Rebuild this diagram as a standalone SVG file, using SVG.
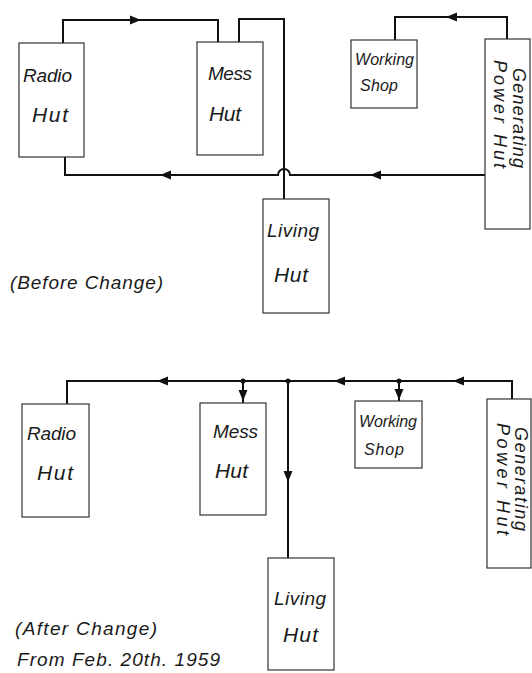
<svg xmlns="http://www.w3.org/2000/svg" xmlns:xlink="http://www.w3.org/1999/xlink" width="532" height="673" viewBox="0 0 532 673">
<style>
.box{fill:#fff;stroke:#333;stroke-width:1.2}
.ln{fill:none;stroke:#111;stroke-width:2}
.t{font-family:"Liberation Sans",Arial,sans-serif;font-style:italic;font-size:19px;fill:#1a1a1a}
.h{font-size:21px}
.s{font-size:16px}
.g{font-size:18px}
.c{font-size:19px}
.dot{fill:#111}
</style>
<defs>
<path id="ah" d="M0,0 L-11,-4.5 L-11,4.5 Z" fill="#111"/>
</defs>
<rect width="532" height="673" fill="#fff"/>

<g id="connectors">
<!-- before -->
<path class="ln" d="M63,43 V20 H218 V42"/>
<path class="ln" d="M239,42 V19 H284 V199"/>
<path class="ln" d="M485,175 H290 A6,6 0 0 0 278,175 H65 V157"/>
<path class="ln" d="M395,40 V17 H507 V39"/>
<use xlink:href="#ah" transform="translate(141,20)"/>
<use xlink:href="#ah" transform="translate(160,175) rotate(180)"/>
<use xlink:href="#ah" transform="translate(370,175) rotate(180)"/>
<use xlink:href="#ah" transform="translate(446,17) rotate(180)"/>
<!-- after -->
<path class="ln" d="M67,404 V381 H512 V399"/>
<path class="ln" d="M243,381 V403"/>
<path class="ln" d="M288,381 V558"/>
<path class="ln" d="M399,381 V401"/>
<circle class="dot" cx="243" cy="381" r="2.5"/>
<circle class="dot" cx="288" cy="381" r="2.5"/>
<circle class="dot" cx="399" cy="381" r="2.5"/>
<use xlink:href="#ah" transform="translate(157,381) rotate(180)"/>
<use xlink:href="#ah" transform="translate(334,381) rotate(180)"/>
<use xlink:href="#ah" transform="translate(453,381) rotate(180)"/>
<use xlink:href="#ah" transform="translate(243,401) rotate(90)"/>
<use xlink:href="#ah" transform="translate(399,400) rotate(90)"/>
<use xlink:href="#ah" transform="translate(288,482) rotate(90)"/>
</g>

<!-- Before change -->
<g id="radio1">
<rect class="box" x="19" y="43" width="65" height="114"/>
<text class="t" x="23" y="82" textLength="49">Radio</text>
<text class="t h" x="32" y="122" textLength="36">Hut</text>
</g>
<g id="mess1">
<rect class="box" x="197" y="42" width="66" height="113"/>
<text class="t" x="208" y="80" textLength="44">Mess</text>
<text class="t h" x="209" y="121" textLength="32">Hut</text>
</g>
<g id="living1">
<rect class="box" x="263" y="199" width="66" height="114"/>
<text class="t" x="267" y="237" textLength="52">Living</text>
<text class="t h" x="274" y="282" textLength="34">Hut</text>
</g>
<g id="work1">
<rect class="box" x="351" y="40" width="66" height="68"/>
<text class="t s" x="355" y="65" textLength="59">Working</text>
<text class="t s" x="360" y="91" textLength="38">Shop</text>
</g>
<g id="gen1">
<rect class="box" x="485" y="39" width="45" height="190"/>
<text class="t g" transform="translate(513,68) rotate(90)" textLength="100">Generating</text>
<text class="t g" transform="translate(494,60) rotate(90)" textLength="108">Power Hut</text>
</g>
<g id="cap1">
<text class="t c" x="10" y="289" textLength="153">(Before Change)</text>
</g>

<!-- After change -->
<g id="radio2">
<rect class="box" x="22" y="404" width="67" height="113"/>
<text class="t" x="27" y="440" textLength="49">Radio</text>
<text class="t h" x="37" y="480" textLength="36">Hut</text>
</g>
<g id="mess2">
<rect class="box" x="200" y="403" width="66" height="112"/>
<text class="t" x="213" y="438" textLength="45">Mess</text>
<text class="t h" x="215" y="478" textLength="33">Hut</text>
</g>
<g id="work2">
<rect class="box" x="355" y="401" width="67" height="67"/>
<text class="t s" x="359" y="427" textLength="58">Working</text>
<text class="t s" x="364" y="455" textLength="40">Shop</text>
</g>
<g id="gen2">
<rect class="box" x="487" y="399" width="44" height="169"/>
<text class="t g" transform="translate(515,427) rotate(90)" textLength="104">Generating</text>
<text class="t g" transform="translate(497,423) rotate(90)" textLength="112">Power Hut</text>
</g>
<g id="living2">
<rect class="box" x="268" y="558" width="66" height="112"/>
<text class="t" x="274" y="605" textLength="52">Living</text>
<text class="t h" x="283" y="642" textLength="35">Hut</text>
</g>
<g id="cap2">
<text class="t c" x="15" y="635" textLength="142">(After Change)</text>
<text class="t" x="17" y="666" font-size="18" textLength="203">From  Feb. 20th. 1959</text>
</g>
</svg>
